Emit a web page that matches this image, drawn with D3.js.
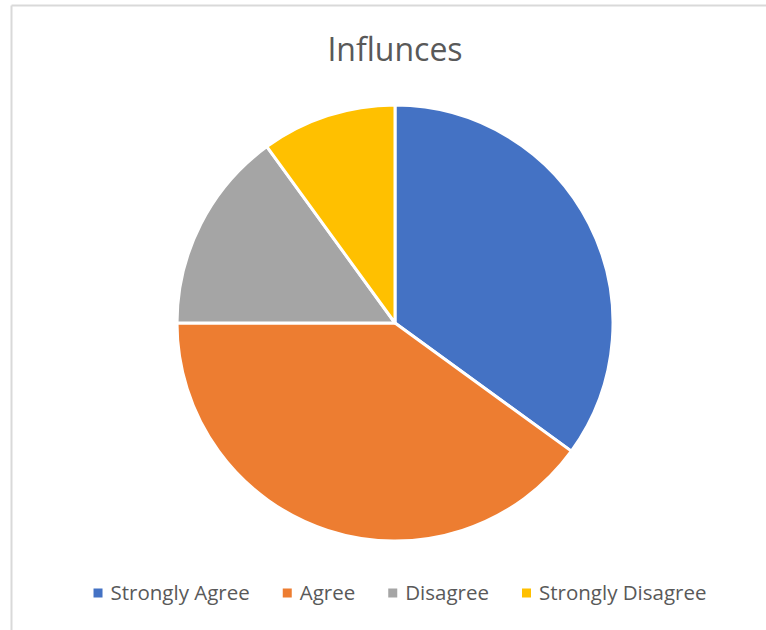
<!DOCTYPE html>
<html>
<head>
<meta charset="utf-8">
<script src="https://cdn.jsdelivr.net/npm/d3@7"></script>
<style>
  html, body { margin: 0; padding: 0; background: #fff; }
  svg { display: block; }
</style>
</head>
<body>
<svg id="chart" width="766" height="630"></svg>
<script>
const categories = ["Strongly Agree", "Agree", "Disagree", "Strongly Disagree"];
const values = [35, 40, 15, 10];
const colors = ["#4472c4", "#ed7d31", "#a5a5a5", "#ffc000"];
const title = "Influnces";

const svg = d3.select("#chart");
const W = 766, H = 630;
const fontFamily = "'Open Sans', 'Noto Sans', sans-serif";

// chart frame (top and left edges visible)
svg.append("line").attr("x1", 11.5).attr("y1", 5.5).attr("x2", W).attr("y2", 5.5)
  .attr("stroke", "#d9d9d9").attr("stroke-width", 2);
svg.append("line").attr("x1", 11.5).attr("y1", 5.5).attr("x2", 11.5).attr("y2", H)
  .attr("stroke", "#d9d9d9").attr("stroke-width", 2);

// title
svg.append("text")
  .attr("x", 395).attr("y", 61)
  .attr("text-anchor", "middle")
  .attr("font-family", fontFamily)
  .attr("font-size", 32)
  .attr("fill", "#595959")
  .text(title);

// pie
const cx = 395, cy = 323, r = 218;
const pie = d3.pie().sort(null).value(d => d);
const arc = d3.arc().innerRadius(0).outerRadius(r);
const g = svg.append("g").attr("transform", `translate(${cx},${cy})`);
g.selectAll("path")
  .data(pie(values))
  .join("path")
  .attr("d", arc)
  .attr("fill", (d, i) => colors[i])
  .attr("stroke", "#fff")
  .attr("stroke-width", 3)
  .attr("stroke-linejoin", "round");

// legend, centred below the pie
const legendY = 593;
const fs = 20.5, sw = 9, gapSwatch = 8, gapItem = 33;
const lg = svg.append("g");
const items = lg.selectAll("g.item").data(categories).join("g").attr("class", "item");
items.append("rect")
  .attr("width", sw).attr("height", sw)
  .attr("y", legendY - sw / 2)
  .attr("fill", (d, i) => colors[i]);
items.append("text")
  .attr("x", sw + gapSwatch)
  .attr("y", legendY)
  .attr("dy", "0.35em")
  .attr("font-family", fontFamily)
  .attr("font-size", fs)
  .attr("fill", "#595959")
  .text(d => d);
const widths = [];
items.each(function () { widths.push(this.getBBox().width); });
const total = d3.sum(widths) + gapItem * (widths.length - 1);
let x = 400 - total / 2;
items.each(function (d, i) {
  d3.select(this).attr("transform", `translate(${x},0)`);
  x += widths[i] + gapItem;
});
</script>
</body>
</html>
